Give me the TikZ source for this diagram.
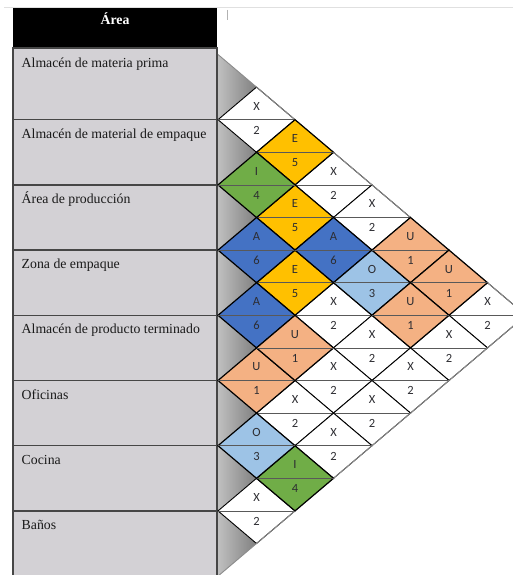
\documentclass[tikz,border=0pt]{standalone}
\usepackage{fontspec}
\setmainfont{Liberation Serif}
\newfontfamily\cellfont{Carlito}
\definecolor{cE}{HTML}{FFC000}
\definecolor{cI}{HTML}{70AD47}
\definecolor{cA}{HTML}{4472C4}
\definecolor{cO}{HTML}{9DC3E6}
\definecolor{cU}{HTML}{F4B183}
\definecolor{cX}{HTML}{FFFFFF}
\definecolor{tabfill}{RGB}{211,209,213}
\definecolor{tabline}{RGB}{70,70,70}
\definecolor{txtcell}{RGB}{45,45,50}
\tikzset{
  rowbox/.style={fill=tabfill, draw=tabline, line width=1.3pt},
  rowlabel/.style={anchor=base west, inner sep=0pt, text=black!90, font=\fontsize{13.8}{15}\selectfont},
  celltxt/.style={inner sep=0pt, text=txtcell, font=\cellfont\fontsize{12.5}{13}\selectfont, text height=1.45ex, text depth=0pt},
  splitline/.style={draw=black!65, line width=0.6pt},
}
% #1 i, #2 j, #3 letter, #4 number, #5 colour, #6 border width
\newcommand\relcell[6]{%
  \pgfmathsetmacro\rcX{218+(#2-#1)*38.5}%
  \pgfmathsetmacro\rcY{87.1+65.2*((#1+#2)/2-1)}%
  \filldraw[fill=#5, draw=black, line width=#6, line join=miter]
    (\rcX-38.5,\rcY) -- (\rcX,\rcY-32.6) -- (\rcX+38.5,\rcY) -- (\rcX,\rcY+32.6) -- cycle;
  \draw[splitline] (\rcX-38.5,\rcY) -- (\rcX+38.5,\rcY);
  \node[celltxt] (l#1#2) at (\rcX,\rcY-13) {#3};
  \node[celltxt] (n#1#2) at (\rcX,\rcY+11) {#4};
}
\begin{document}
\begin{tikzpicture}[x=1pt,y=-1pt]
\useasboundingbox (0,0) rectangle (513,575);
\clip (0,0) rectangle (513,575);
\fill[white] (0,0) rectangle (513,575);
% faint top line and tick
\draw[black!12, line width=0.8pt] (4,7) -- (513,7);
\draw[black!30, line width=0.8pt] (227.5,10) -- (227.5,20);
% header
\fill[black] (13,8) rectangle (217,48);
\node[anchor=base, inner sep=0pt, text=white, font=\bfseries\fontsize{13.8}{15}\selectfont] (hdr) at (115,25) {Área};
% table rows
\draw[rowbox] (13,48) rectangle (217,119.7);
\foreach \k in {1,...,7}{
  \pgfmathsetmacro\ta{54.5+65.2*\k}
  \pgfmathsetmacro\tb{54.5+65.2*(\k+1)}
  \draw[rowbox] (13,\ta) rectangle (217,\tb);
}
\node[rowlabel] (r1) at (21.5,67.5) {Almacén de materia prima};
\node[rowlabel] (r2) at (21.5,119.7+18.5) {Almacén de material de empaque};
\node[rowlabel] (r3) at (21.5,184.9+18.5) {Área de producción};
\node[rowlabel] (r4) at (21.5,250.1+18.5) {Zona de empaque};
\node[rowlabel] (r5) at (21.5,315.3+18.5) {Almacén de producto terminado};
\node[rowlabel] (r6) at (21.5,380.5+18.5) {Oficinas};
\node[rowlabel] (r7) at (21.5,445.7+18.5) {Cocina};
\node[rowlabel] (r8) at (21.5,510.9+18.5) {Baños};
% gray half diamonds
\foreach \k in {1,...,8}{
  \pgfmathsetmacro\ga{54.5+65.2*(\k-1)}
  \pgfmathsetmacro\gc{54.5+65.2*(\k-0.5)}
  \pgfmathsetmacro\gb{54.5+65.2*\k}
  \shade[left color=black!25, right color=black!50] (218,\ga) -- (256.5,\gc) -- (218,\gb) -- cycle;
}
% white cells
\relcell{1}{2}{X}{2}{cX}{0.9pt}
\relcell{1}{4}{X}{2}{cX}{0.9pt}
\relcell{1}{5}{X}{2}{cX}{0.9pt}
\relcell{1}{8}{X}{2}{cX}{0.9pt}
\relcell{3}{6}{X}{2}{cX}{0.9pt}
\relcell{3}{7}{X}{2}{cX}{0.9pt}
\relcell{2}{8}{X}{2}{cX}{0.9pt}
\relcell{4}{7}{X}{2}{cX}{0.9pt}
\relcell{3}{8}{X}{2}{cX}{0.9pt}
\relcell{5}{7}{X}{2}{cX}{0.9pt}
\relcell{4}{8}{X}{2}{cX}{0.9pt}
\relcell{5}{8}{X}{2}{cX}{0.9pt}
\relcell{7}{8}{X}{2}{cX}{0.9pt}
% outer boundary (lighter)
\draw[black!45, line width=0.9pt] (218,54.5) -- (526,315.3) -- (218,576.1);
% coloured cells
\relcell{1}{3}{E}{5}{cE}{1.2pt}
\relcell{2}{4}{E}{5}{cE}{1.2pt}
\relcell{3}{5}{E}{5}{cE}{1.2pt}
\relcell{2}{3}{I}{4}{cI}{1.2pt}
\relcell{6}{8}{I}{4}{cI}{1.2pt}
\relcell{3}{4}{A}{6}{cA}{1.2pt}
\relcell{2}{5}{A}{6}{cA}{1.2pt}
\relcell{4}{5}{A}{6}{cA}{1.2pt}
\relcell{2}{6}{O}{3}{cO}{1.2pt}
\relcell{6}{7}{O}{3}{cO}{1.2pt}
\relcell{1}{6}{U}{1}{cU}{1.2pt}
\relcell{1}{7}{U}{1}{cU}{1.2pt}
\relcell{2}{7}{U}{1}{cU}{1.2pt}
\relcell{5}{6}{U}{1}{cU}{1.2pt}
\relcell{4}{6}{U}{1}{cU}{1.2pt}
\end{tikzpicture}
\end{document}
